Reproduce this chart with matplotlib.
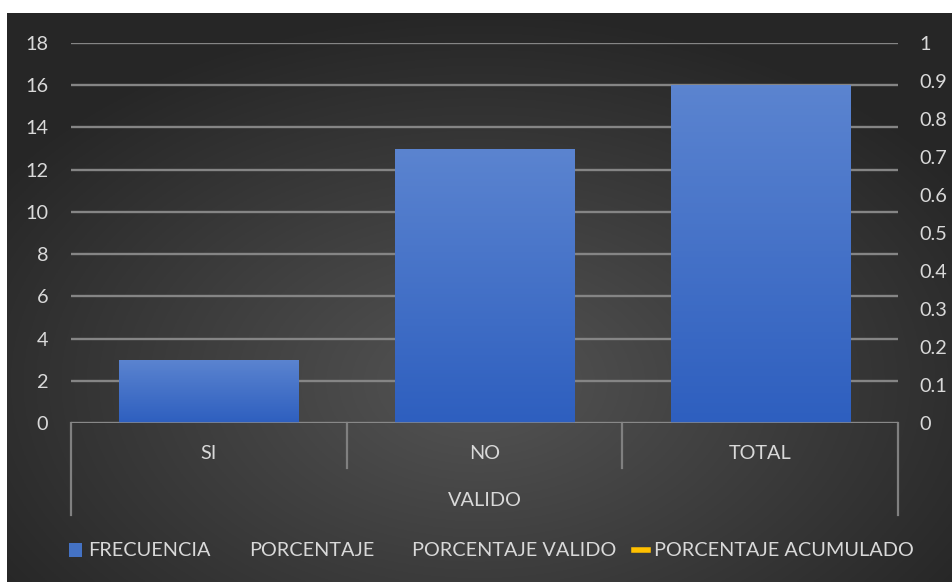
import numpy as np
import matplotlib
matplotlib.use("Agg")
import matplotlib.pyplot as plt
from matplotlib.patches import Patch
from matplotlib.lines import Line2D

# datos del grafico
categorias = ["SI", "NO", "TOTAL"]
frecuencia = [3, 13, 16]
grupo = "VALIDO"
series = ["FRECUENCIA", "PORCENTAJE", "PORCENTAJE VALIDO", "PORCENTAJE ACUMULADO"]
ticks_izq = list(range(0, 19, 2))
ticks_der = [round(0.1 * i, 1) for i in range(11)]

plt.rcParams["font.family"] = ["Lato", "DejaVu Sans"]
txt = "#d9d9d9"
fs = 14.3

fig = plt.figure(figsize=(9.52, 5.82), dpi=100)
fig.patch.set_facecolor("white")

# fondo oscuro con degradado radial
bg = fig.add_axes([7 / 952, 0, 945 / 952, 1 - 13 / 582], zorder=-10)
yy, xx = np.mgrid[0:1:300j, 0:1:500j]
r = np.sqrt(((xx - 0.5) / 0.75) ** 2 + ((yy - 0.35) / 0.8) ** 2)
v = np.clip(0.33 - 0.22 * r, 0.15, 0.34)
bg.imshow(np.dstack([v, v, v]), aspect="auto", extent=[0, 1, 0, 1], origin="lower")
bg.axis("off")

ax = fig.add_axes([71 / 952, 1 - 423 / 582, 827 / 952, 380 / 582])
ax.patch.set_alpha(0)
x = np.arange(len(categorias))
bars = ax.bar(x, frecuencia, width=0.65, color="#4472c4", zorder=3)

# degradado en las barras
grad = np.linspace(0, 1, 100).reshape(-1, 1)
top = np.array([0x5b, 0x84, 0xd0]) / 255
bot = np.array([0x2e, 0x5f, 0xbf]) / 255
img = bot + (top - bot) * grad[..., None]
for b in bars:
    bx, by = b.get_x(), b.get_y()
    im = ax.imshow(img, aspect="auto", origin="lower", zorder=4,
                   extent=[bx, bx + b.get_width(), by, by + b.get_height()])
    im.set_clip_path(b)

ax.set_xlim(-0.5, len(categorias) - 0.5)
ax.set_ylim(0, 18)
ax.set_yticks(ticks_izq)
ax.set_yticklabels([str(t) for t in ticks_izq])
ax.grid(axis="y", color="#858585", linewidth=1.7, zorder=0)
ax.tick_params(axis="y", length=0, pad=16.5, labelcolor=txt, labelsize=fs)
ax.set_xticks([])
for s in ax.spines.values():
    s.set_visible(False)
ax.axhline(0, color="#8a8a8a", linewidth=1.8, zorder=5)

ax2 = ax.twinx()
ax2.set_ylim(0, 1)
ax2.set_yticks(ticks_der)
ax2.set_yticklabels([f"{t:g}" for t in ticks_der])
ax2.tick_params(axis="y", length=0, pad=15.5, labelcolor=txt, labelsize=fs)
for s in ax2.spines.values():
    s.set_visible(False)

# eje x jerarquico
n = len(categorias)
for i in range(n + 1):
    largo = 0.242 if i in (0, n) else 0.118
    ax.plot([i / n, i / n], [0, -largo], transform=ax.transAxes,
            color="#808080", linewidth=1.6, clip_on=False)
for i, c in enumerate(categorias):
    ax.text((i + 0.5) / n, -0.079, c, transform=ax.transAxes, ha="center",
            va="center", color=txt, fontsize=fs)
ax.text(0.5, -0.203, grupo, transform=ax.transAxes, ha="center", va="center",
        color=txt, fontsize=fs)

handles = [
    Patch(facecolor="#4472c4", edgecolor="none"),
    Patch(facecolor="none", edgecolor="none"),
    Patch(facecolor="none", edgecolor="none"),
    Line2D([0], [0], color="#ffc000", linewidth=4),
]
leg = fig.legend(handles, series, loc="center", bbox_to_anchor=(491 / 952, 1 - 551 / 582),
                 ncol=4, frameon=False, fontsize=fs, handlelength=0.7, handleheight=0.7,
                 handletextpad=0.3, columnspacing=0.9)
for t in leg.get_texts():
    t.set_color(txt)

fig.savefig("out.png", dpi=100)
